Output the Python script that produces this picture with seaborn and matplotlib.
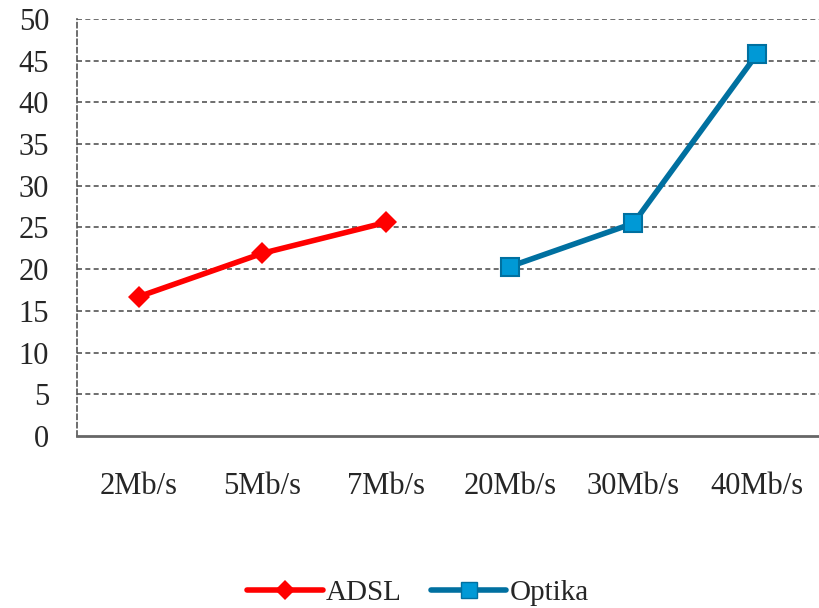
import matplotlib
matplotlib.use("Agg")
import matplotlib.pyplot as plt
import seaborn as sns
import pandas as pd
from matplotlib.lines import Line2D

categories = ["2Mb/s", "5Mb/s", "7Mb/s", "20Mb/s", "30Mb/s", "40Mb/s"]
adsl_cats = ["2Mb/s", "5Mb/s", "7Mb/s"]
adsl_vals = [16.7, 21.9, 25.6]
optika_cats = ["20Mb/s", "30Mb/s", "40Mb/s"]
optika_vals = [20.3, 25.5, 45.8]
y_ticks = [0, 5, 10, 15, 20, 25, 30, 35, 40, 45, 50]

df = pd.DataFrame({
    "speed": adsl_cats + optika_cats,
    "value": adsl_vals + optika_vals,
    "series": ["ADSL"] * 3 + ["Optika"] * 3,
})
df["pos"] = df["speed"].map({c: i for i, c in enumerate(categories)})

sns.set_style("white")
plt.rcParams["font.family"] = ["Liberation Serif", "DejaVu Serif"]

fig = plt.figure(figsize=(8.19, 6.08), dpi=100)
ax = fig.add_axes([0.094, 0.283, 0.906, 0.686])

palette = {"ADSL": "#ff0000", "Optika": "#0070a0"}
sns.lineplot(data=df, x="pos", y="value", hue="series", style="series",
             markers={"ADSL": "D", "Optika": "s"}, dashes=False,
             palette=palette, linewidth=4, markersize=13, ax=ax, legend=False)

# marker faces
for line in ax.get_lines():
    if line.get_color() == "#0070a0":
        line.set_markerfacecolor("#0099d6")
        line.set_markeredgecolor("#0070a0")
        line.set_markeredgewidth(1.5)
    else:
        line.set_markersize(11)
        line.set_markeredgewidth(0)

ax.set_xlim(-0.5, 5.5)
ax.set_ylim(0, 50)
ax.set_yticks(y_ticks)
ax.set_xticks(range(len(categories)))
ax.set_xticklabels(categories)
ax.set_xlabel("")
ax.set_ylabel("")
ax.tick_params(axis="both", labelsize=22, length=0)
ax.tick_params(axis="x", pad=26)
ax.tick_params(axis="y", pad=20)

for y in y_ticks[1:]:
    ax.axhline(y, color="#555555", linestyle=(0, (3, 2)), linewidth=1.2, zorder=0)

for s in ["top", "right"]:
    ax.spines[s].set_visible(False)
ax.spines["left"].set_linestyle((0, (3, 2)))
ax.spines["left"].set_color("#555555")
ax.spines["left"].set_linewidth(1.2)
ax.spines["bottom"].set_color("#666666")
ax.spines["bottom"].set_linewidth(2)

handles = [
    Line2D([], [], color="#ff0000", lw=4, marker="D", markersize=10, markeredgewidth=0),
    Line2D([], [], color="#0070a0", lw=4, marker="s", markersize=12,
           markerfacecolor="#0099d6", markeredgecolor="#0070a0"),
]
fig.legend(handles, ["ADSL", "Optika"], loc="lower center", bbox_to_anchor=(0.51, -0.04),
           ncol=2, frameon=False, fontsize=21, handlelength=2.6, handletextpad=0.1,
           columnspacing=1.0)

fig.savefig("out.png", dpi=100)
